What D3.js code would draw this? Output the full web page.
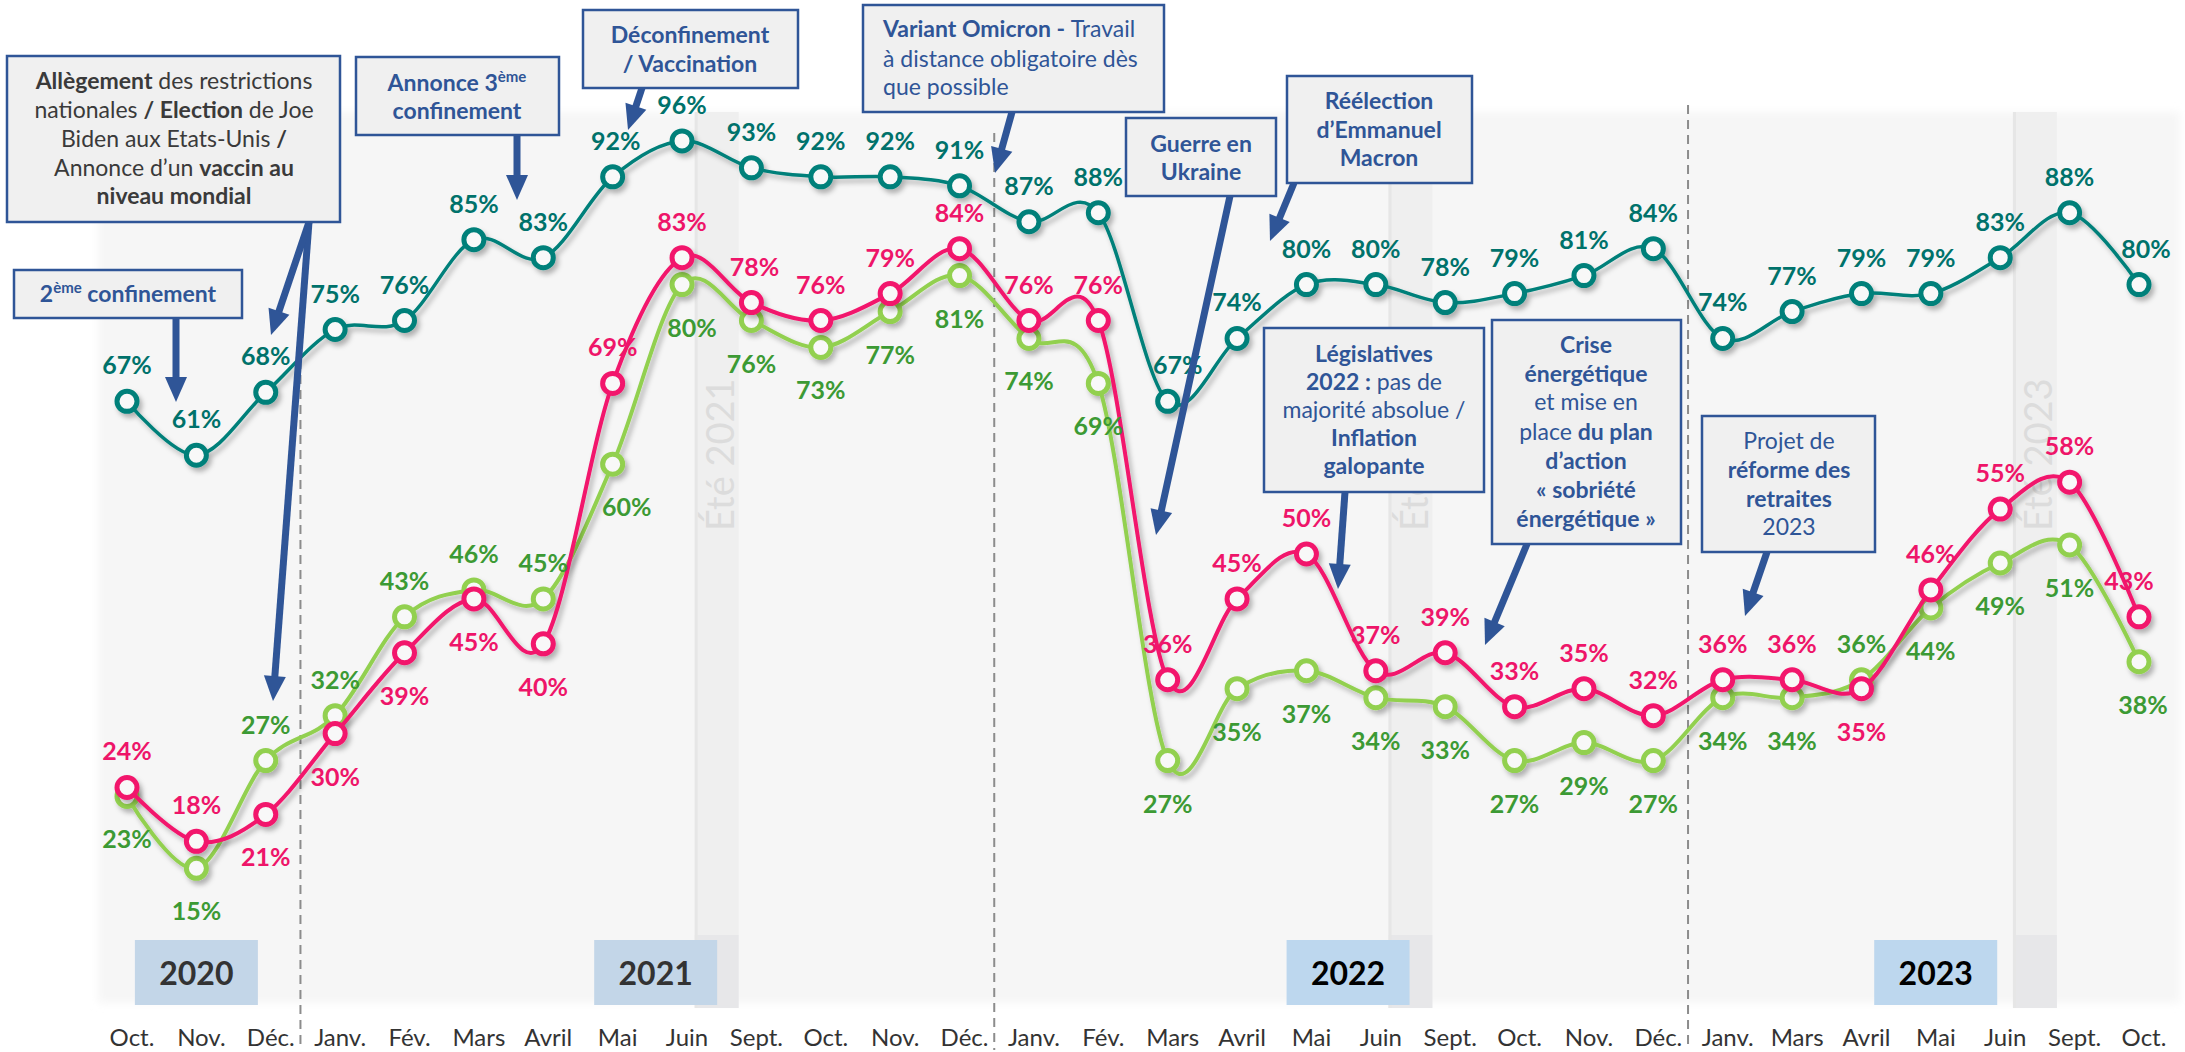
<!DOCTYPE html>
<html>
<head>
<meta charset="utf-8">
<script src="https://cdn.jsdelivr.net/npm/d3@7"></script>
<style>
  body { margin: 0; background: #fff; }
  svg { display: block; font-family: Lato, 'Open Sans', sans-serif; }
  text { white-space: pre; }
</style>
</head>
<body>
<svg width="2185" height="1052"></svg>
<script>
// month categories, Oct. 2020 -> Oct. 2023
const months = ['Oct.','Nov.','Déc.','Janv.','Fév.','Mars','Avril','Mai','Juin','Sept.',
  'Oct.','Nov.','Déc.','Janv.','Fév.','Mars','Avril','Mai','Juin','Sept.',
  'Oct.','Nov.','Déc.','Janv.','Mars','Avril','Mai','Juin','Sept.','Oct.'];

const tealValues  = [67,61,68,75,76,85,83,92,96,93,92,92,91,87,88,67,74,80,80,78,79,81,84,74,77,79,79,83,88,80];
const pinkValues  = [24,18,21,30,39,45,40,69,83,78,76,79,84,76,76,36,45,50,37,39,33,35,32,36,36,35,46,55,58,43];
const greenValues = [23,15,27,32,43,46,45,60,80,76,73,77,81,74,69,27,35,37,34,33,27,29,27,34,34,36,44,49,51,38];

// label above (a) or below (b) the marker
const tealPlace  = 'aaaaaaaaaaaaaaaaaaaaaaaaaaaaaa'.split('');
const pinkPlace  = ('aa' + 'bbbbb' + 'aaaaaaaaaaaaaaaaaa' + 'b' + 'aaaa').split('');
const greenPlace = ('bb' + 'aaaaa' + 'bbbbbbbbbbbbbbbbbb' + 'a' + 'bbbb').split('');

const years = ['2020','2021','2022','2023'];
const yearAt = [1, 7.62, 17.6, 26.07];      // index position of the year tags
const summers = ['Été 2021','Été 2022','Été 2023'];
const summerAt = [8.5, 18.5, 27.5];
const yearBreaks = [2.5, 12.5, 22.5];

const svg = d3.select('svg');
const x = d3.scaleLinear().domain([0, months.length - 1]).range([127, 2139]);
const y = d3.scaleLinear().domain([0, 100]).range([1003, 105]);

const defs = svg.append('defs');
const shadow = defs.append('filter').attr('id', 'shadow')
  .attr('x', '-5%').attr('y', '-5%').attr('width', '115%').attr('height', '115%');
shadow.append('feDropShadow').attr('dx', 3).attr('dy', 4).attr('stdDeviation', 2.5)
  .attr('flood-color', '#000').attr('flood-opacity', 0.28);
const soft = defs.append('filter').attr('id', 'soft')
  .attr('x', '-2%').attr('y', '-2%').attr('width', '104%').attr('height', '104%');
soft.append('feGaussianBlur').attr('stdDeviation', 4);

// plot background
svg.append('rect')
  .attr('x', 98).attr('y', 112).attr('width', 2082).attr('height', 891)
  .attr('fill', '#f6f6f6').attr('filter', 'url(#soft)');

// summer bands
const bands = svg.append('g');
summerAt.forEach(function(s, i) {
  const bx = x(s) - 22;
  bands.append('rect').attr('x', bx).attr('y', 112).attr('width', 44).attr('height', 823).attr('fill', '#efefef');
  bands.append('rect').attr('x', bx).attr('y', 935).attr('width', 44).attr('height', 73).attr('fill', '#e7e7e9');
  bands.append('rect').attr('x', bx).attr('y', 112).attr('width', 3).attr('height', 896).attr('fill', '#e6e6e6');
  bands.append('text')
    .attr('transform', 'translate(' + (x(s) + 17) + ',531) rotate(-90)')
    .attr('fill', '#dcdcdc').style('font-size', '38px')
    .text(summers[i]);
});

// year tags
const yearFill = ['#c3d6e8', '#c3d6e8', '#bdd7ee', '#bdd7ee'];
const yearText = ['#333', '#333', '#000', '#000'];
years.forEach(function(yr, i) {
  const cx = x(yearAt[i]);
  svg.append('rect').attr('x', cx - 61.5).attr('y', 940).attr('width', 123).attr('height', 65)
    .attr('fill', yearFill[i]);
  svg.append('text').attr('x', cx).attr('y', 985).attr('text-anchor', 'middle')
    .attr('fill', yearText[i]).style('font-size', '32px').style('font-weight', 700)
    .text(yr);
});

// dashed year separators
const breakTop = [315, 133, 105];
yearBreaks.forEach(function(b, i) {
  svg.append('line')
    .attr('x1', x(b)).attr('x2', x(b)).attr('y1', breakTop[i]).attr('y2', 1050)
    .attr('stroke', '#8c8c8c').attr('stroke-width', 2).attr('stroke-dasharray', '9,6');
});

// month labels
svg.append('g').selectAll('text').data(months).enter().append('text')
  .attr('x', (d, i) => x(i) + 5).attr('y', 1046)
  .attr('text-anchor', 'middle').attr('fill', '#333').style('font-size', '24px')
  .text(d => d);

// series
const series = [
  { values: greenValues, place: greenPlace, line: '#92d050', text: '#3c9a34', w: 4, nudge: {7: 14, 8: 10, 29: 4} },
  { values: pinkValues,  place: pinkPlace,  line: '#f2166c', text: '#ee1569', w: 4, nudge: {9: 3, 29: -10} },
  { values: tealValues,  place: tealPlace,  line: '#00807a', text: '#00726b', w: 3.5, nudge: {7: 3, 15: 10, 29: 7} }
];

const lineGen = d3.line()
  .x((d, i) => x(i))
  .y(d => y(d))
  .curve(d3.curveCatmullRom.alpha(0));

series.forEach(function(s) {
  const g = svg.append('g').attr('filter', 'url(#shadow)');
  g.append('path').datum(s.values)
    .attr('d', lineGen)
    .attr('fill', 'none').attr('stroke', s.line).attr('stroke-width', s.w);
  g.selectAll('circle').data(s.values).enter().append('circle')
    .attr('cx', (d, i) => x(i)).attr('cy', d => y(d)).attr('r', 10)
    .attr('fill', '#f8f8f8').attr('stroke', s.line).attr('stroke-width', 5);
});

series.forEach(function(s) {
  svg.append('g').selectAll('text').data(s.values).enter().append('text')
    .attr('x', (d, i) => x(i) + (s.nudge[i] || 0))
    .attr('y', (d, i) => s.place[i] == 'a' ? y(d) - 27 : y(d) + 52)
    .attr('text-anchor', 'middle').attr('fill', s.text)
    .style('font-size', '25px').style('font-weight', 700)
    .text(d => d + '%');
});

// annotation boxes
const blue = '#2f5597';
const notes = [
  { box: [7, 56, 340, 222], cx: 174, color: '#3a3a3a', lines: [
    [89,  [['Allègement', 1], [' des restrictions', 0]]],
    [118, [['nationales ', 0], ['/ Election', 1], [' de Joe', 0]]],
    [147, [['Biden aux Etats-Unis ', 0], ['/', 1]]],
    [176, [['Annonce d’un ', 0], ['vaccin au', 1]]],
    [204, [['niveau mondial', 1]]]
  ]},
  { box: [14, 270, 242, 318], cx: 128, lines: [
    [302, [['2', 1], ['ème', 1, 1], [' confinement', 1]]]
  ]},
  { box: [356, 57, 559, 135], cx: 457, lines: [
    [91,  [['Annonce 3', 1], ['ème', 1, 1]]],
    [119, [['confinement', 1]]]
  ]},
  { box: [583, 10, 798, 88], cx: 690, lines: [
    [43, [['Déconfinement', 1]]],
    [72, [['/ Vaccination', 1]]]
  ]},
  { box: [863, 5, 1164, 112], left: 883, lines: [
    [37, [['Variant Omicron - ', 1], ['Travail', 0]]],
    [67, [['à distance obligatoire dès', 0]]],
    [95, [['que possible', 0]]]
  ]},
  { box: [1126, 118, 1276, 196], cx: 1201, lines: [
    [152, [['Guerre en', 1]]],
    [180, [['Ukraine', 1]]]
  ]},
  { box: [1287, 76, 1472, 183], cx: 1379, lines: [
    [109, [['Réélection', 1]]],
    [138, [['d’Emmanuel', 1]]],
    [166, [['Macron', 1]]]
  ]},
  { box: [1264, 328, 1484, 492], cx: 1374, lines: [
    [362, [['Législatives', 1]]],
    [390, [['2022 :', 1], [' pas de', 0]]],
    [418, [['majorité absolue /', 0]]],
    [446, [['Inflation', 1]]],
    [474, [['galopante', 1]]]
  ]},
  { box: [1492, 320, 1681, 544], cx: 1586, lines: [
    [353, [['Crise', 1]]],
    [382, [['énergétique', 1]]],
    [410, [['et mise en', 0]]],
    [440, [['place ', 0], ['du plan', 1]]],
    [469, [['d’action', 1]]],
    [498, [['« sobriété', 1]]],
    [527, [['énergétique »', 1]]]
  ]},
  { box: [1702, 416, 1875, 552], cx: 1789, lines: [
    [449, [['Projet de', 0]]],
    [478, [['réforme des', 1]]],
    [507, [['retraites', 1]]],
    [535, [['2023', 0]]]
  ]}
];

const arrows = [
  [309, 222, 273, 701], [309, 222, 271, 335],
  [176, 318, 176, 402],
  [517, 135, 517, 200],
  [642, 88, 628, 130],
  [1012, 112, 995, 173],
  [1230, 196, 1156, 535],
  [1294, 183, 1270, 241],
  [1345, 492, 1338, 589],
  [1527, 544, 1485, 645],
  [1767, 552, 1745, 616]
];

const ag = svg.append('g');
arrows.forEach(function(a) {
  const dx = a[2] - a[0], dy = a[3] - a[1];
  const len = Math.hypot(dx, dy), ux = dx / len, uy = dy / len;
  const hl = 25, hw = 11;
  const bx = a[2] - ux * hl, by = a[3] - uy * hl;
  ag.append('line').attr('x1', a[0]).attr('y1', a[1]).attr('x2', bx + ux * 2).attr('y2', by + uy * 2)
    .attr('stroke', blue).attr('stroke-width', 7);
  ag.append('path')
    .attr('d', 'M' + a[2] + ',' + a[3] + 'L' + (bx - uy * hw) + ',' + (by + ux * hw) + 'L' + (bx + uy * hw) + ',' + (by - ux * hw) + 'Z')
    .attr('fill', blue);
});

const ng = svg.append('g');
notes.forEach(function(n) {
  ng.append('rect')
    .attr('x', n.box[0]).attr('y', n.box[1])
    .attr('width', n.box[2] - n.box[0]).attr('height', n.box[3] - n.box[1])
    .attr('fill', '#f0f0f0').attr('stroke', blue).attr('stroke-width', 2.5);
  n.lines.forEach(function(l) {
    const t = ng.append('text')
      .attr('x', n.left ? n.left : n.cx).attr('y', l[0])
      .attr('text-anchor', n.left ? 'start' : 'middle')
      .attr('fill', n.color || blue).style('font-size', '23px');
    let shifted = false;
    l[1].forEach(function(p) {
      const s = t.append('tspan').text(p[0]).style('font-weight', p[1] ? 700 : 400);
      if (p[2]) {
        s.attr('dy', -9).style('font-size', '15px');
        shifted = true;
      } else if (shifted) {
        s.attr('dy', 9);
        shifted = false;
      }
    });
  });
});
</script>
</body>
</html>
